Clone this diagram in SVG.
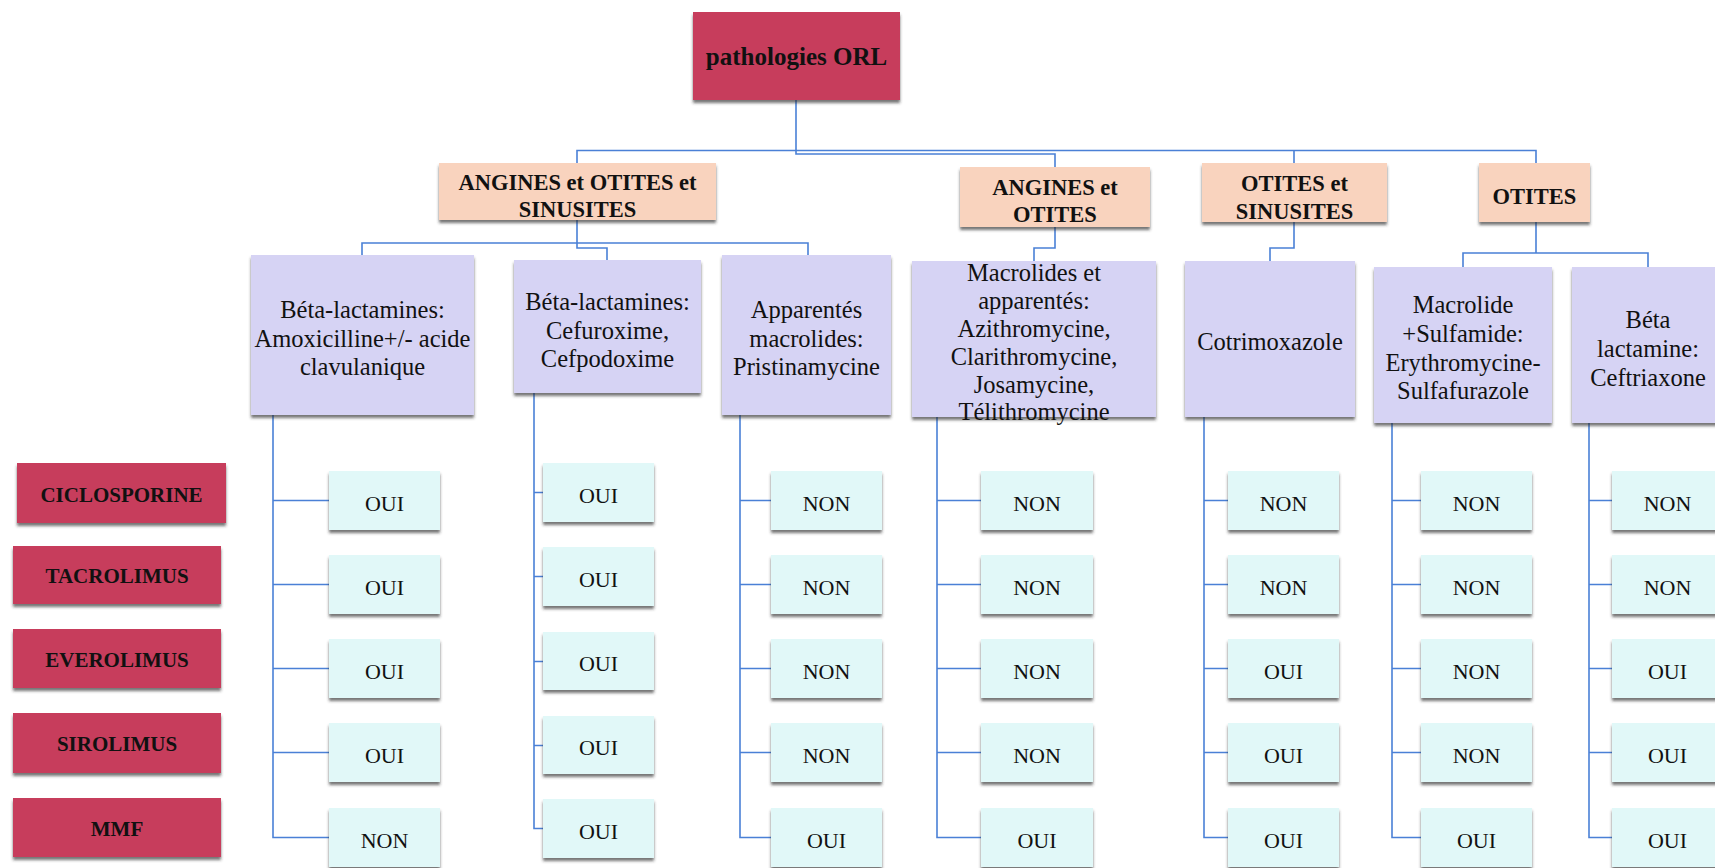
<svg xmlns="http://www.w3.org/2000/svg" width="1715" height="868" viewBox="0 0 1715 868">
<defs>
<filter id="sh" x="-10%" y="-10%" width="120%" height="130%">
<feDropShadow dx="0" dy="3" stdDeviation="1.6" flood-color="#2a2a2a" flood-opacity="0.65"/>
</filter>
<style>
.red{fill:#C73C5C;filter:url(#sh)}
.peach{fill:#F9D3BE;filter:url(#sh)}
.lav{fill:#D6D3F4;filter:url(#sh)}
.cy{fill:#E1F8F8;filter:url(#sh)}
text{font-family:"Liberation Serif","Times New Roman",serif;fill:#111;text-anchor:middle}
.b{font-weight:bold}
.t0{font-size:25px}
.t2{font-size:22.5px}
.t3{font-size:24.5px}
.tr{font-size:21px}
.tv{font-size:22px}
.c{fill:none;stroke:#4A80D6;stroke-width:1.6}
</style>
</defs>
<rect width="1715" height="868" fill="#ffffff"/>
<g id="connectors">
<path class="c" d="M796 100 V154 H1055 V167"/>
<path class="c" d="M577 163 V150.5 H1536 V163 M1294 150.5 V163"/>
<path class="c" d="M577 220 V243 M362 255 V243 H808 V255 M577 243 V248 H607 V260"/>
<path class="c" d="M1055 227 V248 H1034 V261"/>
<path class="c" d="M1294 222 V248 H1270 V261"/>
<path class="c" d="M1536 222 V253 M1463 267 V253 H1648 V267"/>
<path class="c" d="M273 415 V837.5 H329 M273 500.5 H329 M273 584.5 H329 M273 668.5 H329 M273 752.5 H329"/>
<path class="c" d="M534 393 V828.5 H543 M534 492.5 H543 M534 576.5 H543 M534 661.5 H543 M534 745.5 H543"/>
<path class="c" d="M740 415 V837.5 H771 M740 500.5 H771 M740 584.5 H771 M740 668.5 H771 M740 752.5 H771"/>
<path class="c" d="M937 417 V837.5 H981 M937 500.5 H981 M937 584.5 H981 M937 668.5 H981 M937 752.5 H981"/>
<path class="c" d="M1204 417 V837.5 H1228 M1204 500.5 H1228 M1204 584.5 H1228 M1204 668.5 H1228 M1204 752.5 H1228"/>
<path class="c" d="M1392 423 V837.5 H1421 M1392 500.5 H1421 M1392 584.5 H1421 M1392 668.5 H1421 M1392 752.5 H1421"/>
<path class="c" d="M1589 423 V837.5 H1612 M1589 500.5 H1612 M1589 584.5 H1612 M1589 668.5 H1612 M1589 752.5 H1612"/>
</g>
<g id="n-root"><rect class="red" x="693" y="12" width="207" height="88"/><text class="b t0" x="796.5" y="65">pathologies ORL</text></g>
<g id="n-aos"><rect class="peach" x="439" y="163" width="277" height="57"/><text class="b t2" x="577.5" y="190">ANGINES et OTITES et</text><text class="b t2" x="577.5" y="217">SINUSITES</text></g>
<g id="n-ao"><rect class="peach" x="960" y="167" width="190" height="60"/><text class="b t2" x="1055" y="195">ANGINES et</text><text class="b t2" x="1055" y="222">OTITES</text></g>
<g id="n-os"><rect class="peach" x="1202" y="163" width="185" height="59"/><text class="b t2" x="1294.5" y="191">OTITES et</text><text class="b t2" x="1294.5" y="219">SINUSITES</text></g>
<g id="n-o"><rect class="peach" x="1479" y="163" width="111" height="59"/><text class="b t2" x="1534.5" y="204">OTITES</text></g>
<g id="n-a"><rect class="lav" x="251" y="255" width="223" height="160"/><text class="t3" x="362.5" y="318">Béta-lactamines:</text><text class="t3" x="362.5" y="346.5">Amoxicilline+/- acide</text><text class="t3" x="362.5" y="375">clavulanique</text></g>
<g id="n-b"><rect class="lav" x="514" y="260" width="187" height="133"/><text class="t3" x="607.5" y="310">Béta-lactamines:</text><text class="t3" x="607.5" y="338.5">Cefuroxime,</text><text class="t3" x="607.5" y="367">Cefpodoxime</text></g>
<g id="n-c"><rect class="lav" x="722" y="255" width="169" height="160"/><text class="t3" x="806.5" y="318">Apparentés</text><text class="t3" x="806.5" y="346.5">macrolides:</text><text class="t3" x="806.5" y="375">Pristinamycine</text></g>
<g id="n-d"><rect class="lav" x="912" y="261" width="244" height="156"/><text class="t3" x="1034" y="281">Macrolides et</text><text class="t3" x="1034" y="309">apparentés:</text><text class="t3" x="1034" y="337">Azithromycine,</text><text class="t3" x="1034" y="365">Clarithromycine,</text><text class="t3" x="1034" y="393">Josamycine,</text><text class="t3" x="1034" y="420">Télithromycine</text></g>
<g id="n-e"><rect class="lav" x="1185" y="261" width="170" height="156"/><text class="t3" x="1270" y="350">Cotrimoxazole</text></g>
<g id="n-f"><rect class="lav" x="1374" y="267" width="178" height="156"/><text class="t3" x="1463" y="313">Macrolide</text><text class="t3" x="1463" y="342">+Sulfamide:</text><text class="t3" x="1463" y="371">Erythromycine-</text><text class="t3" x="1463" y="399">Sulfafurazole</text></g>
<g id="n-g"><rect class="lav" x="1572" y="267" width="152" height="156"/><text class="t3" x="1648" y="328">Béta</text><text class="t3" x="1648" y="357">lactamine:</text><text class="t3" x="1648" y="386">Ceftriaxone</text></g>
<g id="r-ciclo"><rect class="red" x="17" y="463" width="209" height="60"/><text class="b tr" x="121.5" y="502">CICLOSPORINE</text></g>
<g id="r-tacro"><rect class="red" x="13" y="546" width="208" height="58"/><text class="b tr" x="117" y="583">TACROLIMUS</text></g>
<g id="r-evero"><rect class="red" x="13" y="629" width="208" height="59"/><text class="b tr" x="117" y="667">EVEROLIMUS</text></g>
<g id="r-siro"><rect class="red" x="13" y="713" width="208" height="60"/><text class="b tr" x="117" y="751">SIROLIMUS</text></g>
<g id="r-mmf"><rect class="red" x="13" y="798" width="208" height="59"/><text class="b tr" x="117" y="836">MMF</text></g>
<g id="v-a">
<rect class="cy" x="329" y="471" width="111" height="59"/><text class="tv" x="384.5" y="511">OUI</text>
<rect class="cy" x="329" y="555" width="111" height="59"/><text class="tv" x="384.5" y="595">OUI</text>
<rect class="cy" x="329" y="639" width="111" height="59"/><text class="tv" x="384.5" y="679">OUI</text>
<rect class="cy" x="329" y="723" width="111" height="59"/><text class="tv" x="384.5" y="763">OUI</text>
<rect class="cy" x="329" y="808" width="111" height="59"/><text class="tv" x="384.5" y="848">NON</text>
</g>
<g id="v-b">
<rect class="cy" x="543" y="463" width="111" height="59"/><text class="tv" x="598.5" y="503">OUI</text>
<rect class="cy" x="543" y="547" width="111" height="59"/><text class="tv" x="598.5" y="587">OUI</text>
<rect class="cy" x="543" y="632" width="111" height="58"/><text class="tv" x="598.5" y="671">OUI</text>
<rect class="cy" x="543" y="716" width="111" height="58"/><text class="tv" x="598.5" y="755">OUI</text>
<rect class="cy" x="543" y="799" width="111" height="59"/><text class="tv" x="598.5" y="839">OUI</text>
</g>
<g id="v-c">
<rect class="cy" x="771" y="471" width="111" height="59"/><text class="tv" x="826.5" y="511">NON</text>
<rect class="cy" x="771" y="555" width="111" height="59"/><text class="tv" x="826.5" y="595">NON</text>
<rect class="cy" x="771" y="639" width="111" height="59"/><text class="tv" x="826.5" y="679">NON</text>
<rect class="cy" x="771" y="723" width="111" height="59"/><text class="tv" x="826.5" y="763">NON</text>
<rect class="cy" x="771" y="808" width="111" height="59"/><text class="tv" x="826.5" y="848">OUI</text>
</g>
<g id="v-d">
<rect class="cy" x="981" y="471" width="112" height="59"/><text class="tv" x="1037" y="511">NON</text>
<rect class="cy" x="981" y="555" width="112" height="59"/><text class="tv" x="1037" y="595">NON</text>
<rect class="cy" x="981" y="639" width="112" height="59"/><text class="tv" x="1037" y="679">NON</text>
<rect class="cy" x="981" y="723" width="112" height="59"/><text class="tv" x="1037" y="763">NON</text>
<rect class="cy" x="981" y="808" width="112" height="59"/><text class="tv" x="1037" y="848">OUI</text>
</g>
<g id="v-e">
<rect class="cy" x="1228" y="471" width="111" height="59"/><text class="tv" x="1283.5" y="511">NON</text>
<rect class="cy" x="1228" y="555" width="111" height="59"/><text class="tv" x="1283.5" y="595">NON</text>
<rect class="cy" x="1228" y="639" width="111" height="59"/><text class="tv" x="1283.5" y="679">OUI</text>
<rect class="cy" x="1228" y="723" width="111" height="59"/><text class="tv" x="1283.5" y="763">OUI</text>
<rect class="cy" x="1228" y="808" width="111" height="59"/><text class="tv" x="1283.5" y="848">OUI</text>
</g>
<g id="v-f">
<rect class="cy" x="1421" y="471" width="111" height="59"/><text class="tv" x="1476.5" y="511">NON</text>
<rect class="cy" x="1421" y="555" width="111" height="59"/><text class="tv" x="1476.5" y="595">NON</text>
<rect class="cy" x="1421" y="639" width="111" height="59"/><text class="tv" x="1476.5" y="679">NON</text>
<rect class="cy" x="1421" y="723" width="111" height="59"/><text class="tv" x="1476.5" y="763">NON</text>
<rect class="cy" x="1421" y="808" width="111" height="59"/><text class="tv" x="1476.5" y="848">OUI</text>
</g>
<g id="v-g">
<rect class="cy" x="1612" y="471" width="111" height="59"/><text class="tv" x="1667.5" y="511">NON</text>
<rect class="cy" x="1612" y="555" width="111" height="59"/><text class="tv" x="1667.5" y="595">NON</text>
<rect class="cy" x="1612" y="639" width="111" height="59"/><text class="tv" x="1667.5" y="679">OUI</text>
<rect class="cy" x="1612" y="723" width="111" height="59"/><text class="tv" x="1667.5" y="763">OUI</text>
<rect class="cy" x="1612" y="808" width="111" height="59"/><text class="tv" x="1667.5" y="848">OUI</text>
</g>
</svg>
